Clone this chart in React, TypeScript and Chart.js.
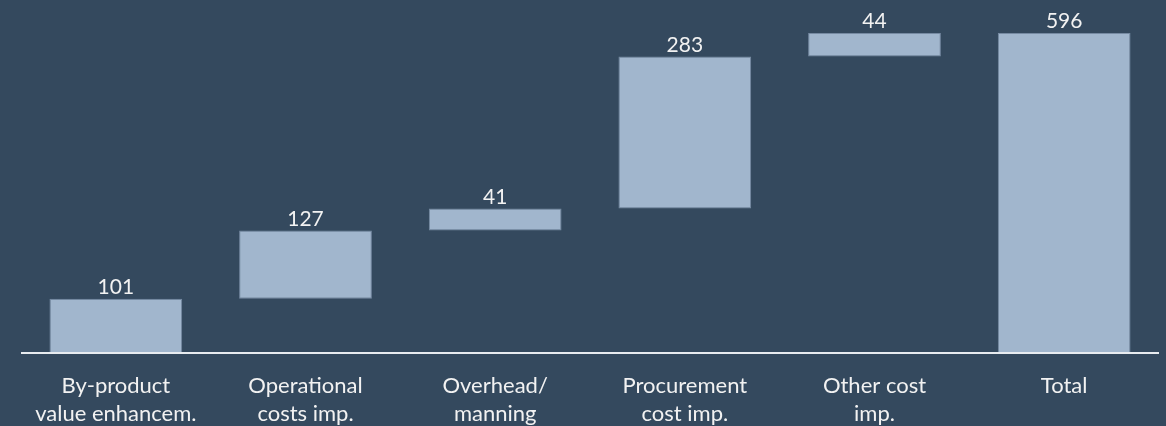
import React, { useEffect, useRef } from "react";
import { Chart, registerables } from "chart.js";

Chart.register(...registerables);

const categories: string[][] = [
  ["By-product", "value enhancem."],
  ["Operational", "costs imp."],
  ["Overhead/", "manning"],
  ["Procurement", "cost imp."],
  ["Other cost", "imp."],
  ["Total"],
];
const stepValues: number[] = [101, 127, 41, 283, 44];
const totalValue: number = 596;
const valueLabels: string[] = ["101", "127", "41", "283", "44", "596"];

const BG = "#34495e";
const BAR = "#a1b6cd";
const TXT = "#f2f2f2";
const FONT = "Lato, 'Open Sans', sans-serif";

export default function App() {
  const ref = useRef<HTMLCanvasElement | null>(null);

  useEffect(() => {
    document.body.style.margin = "0";
    document.body.style.background = BG;
    const canvas = ref.current!;
    const ranges: [number, number][] = [];
    let acc = 0;
    for (const v of stepValues) {
      ranges.push([acc, acc + v]);
      acc += v;
    }
    ranges.push([0, totalValue]);

    const bgPlugin = {
      id: "bg",
      beforeDraw(chart: any) {
        const { ctx, width, height } = chart;
        ctx.save();
        ctx.fillStyle = BG;
        ctx.fillRect(0, 0, width, height);
        ctx.restore();
      },
    };
    const overlay = {
      id: "overlay",
      afterDatasetsDraw(chart: any) {
        const { ctx, chartArea } = chart;
        const y0 = chart.scales.y.getPixelForValue(0);
        ctx.save();
        ctx.strokeStyle = "#e8ecf0";
        ctx.lineWidth = 2;
        ctx.beginPath();
        ctx.moveTo(chartArea.left, y0);
        ctx.lineTo(chartArea.right, y0);
        ctx.stroke();
        const meta = chart.getDatasetMeta(0);
        ctx.fillStyle = TXT;
        ctx.font = `21px ${FONT}`;
        ctx.textAlign = "center";
        ctx.textBaseline = "alphabetic";
        meta.data.forEach((bar: any, i: number) => {
          const top = Math.min(bar.y, bar.base);
          ctx.fillText(valueLabels[i], bar.x, top - 4.5);
        });
        ctx.restore();
      },
    };

    const chart = new Chart(canvas, {
      type: "bar",
      data: {
        labels: categories,
        datasets: [
          {
            data: ranges as any,
            backgroundColor: BAR,
            borderColor: "rgba(125,145,170,0.9)",
            borderWidth: 1,
            borderSkipped: false,
            barPercentage: 0.7,
            categoryPercentage: 1,
          },
        ],
      },
      options: {
        animation: false,
        responsive: false,
        maintainAspectRatio: false,
        layout: { padding: { left: 21, right: 7, top: 20, bottom: 0 } },
        plugins: { legend: { display: false }, tooltip: { enabled: false } },
        scales: {
          x: {
            grid: { display: false, drawTicks: false },
            border: { display: false },
            afterFit: (scale: any) => {
              scale.height = 73;
            },
            ticks: {
              color: TXT,
              font: { family: FONT, size: 22, lineHeight: 28 / 22 },
              padding: 19,
              maxRotation: 0,
              autoSkip: false,
            },
          },
          y: {
            display: false,
            min: 0,
            max: 620,
          },
        },
      },
      plugins: [bgPlugin, overlay],
    });
    return () => chart.destroy();
  }, []);

  return <canvas ref={ref} width={1166} height={426} style={{ display: "block" }} />;
}
